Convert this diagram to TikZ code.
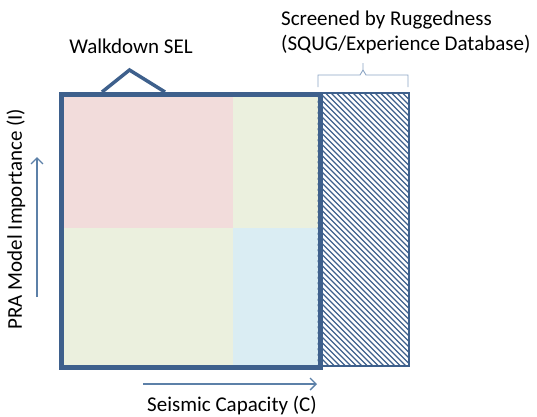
\documentclass[tikz,border=0pt]{standalone}
\usepackage{fontspec}
\setmainfont{Carlito}
\usetikzlibrary{arrows.meta}
\definecolor{boxblue}{RGB}{62,96,140}
\definecolor{arrblue}{RGB}{92,128,168}
\definecolor{braceblue}{RGB}{140,165,196}
\definecolor{pinkc}{RGB}{242,220,219}
\definecolor{greenc}{RGB}{235,240,222}
\definecolor{bluec}{RGB}{218,237,243}
\tikzset{
  lbl/.style={font=\fontsize{21}{24}\selectfont, text=black, inner sep=0pt},
  axisarrow/.style={draw=arrblue, line width=1.4pt, -{Straight Barb[length=6pt,width=12pt,line width=1.4pt]}},
}
\begin{document}
\begin{tikzpicture}[x=1pt,y=-1pt]
\useasboundingbox (0,0) rectangle (537,416);
% colour fields
\fill[pinkc]  (59,92) rectangle (233,228);
\fill[greenc] (233,92) rectangle (317.5,228);
\fill[greenc] (59,228) rectangle (233,365);
\fill[bluec]  (233,228) rectangle (317.5,365);
% hatched region
\begin{scope}
  \clip (317.5,92) rectangle (408,365);
  \foreach \i in {-290,-284.5,...,100} {
    \draw[boxblue, line width=1.3pt] (317.5+\i,92) -- ++(290,290);
  }
\end{scope}
\node[draw=boxblue, line width=2.2pt, minimum width=90.5pt, minimum height=273pt, inner sep=0pt, anchor=north west] (hatch) at (317.5,92) {};
% main box
\node[draw=boxblue, line width=5pt, minimum width=258.5pt, minimum height=273pt, inner sep=0pt, anchor=north west] (main) at (59,92) {};
% walkdown triangle
\coordinate (tl) at (102,92);
\coordinate (tapex) at (129.5,70);
\coordinate (tr) at (165,92);
\draw[boxblue, line width=3.5pt, line join=miter] (tl) -- (tapex) -- (tr);
\node[lbl] (walk) at (131,46) {Walkdown SEL};
% brace
\coordinate (bl) at (318,87);
\coordinate (br) at (408,87);
\coordinate (btip) at (363,63);
\draw[braceblue, line width=0.9pt] (bl) -- (318,75) -- (360,75) -- (363,70) -- (btip);
\draw[braceblue, line width=0.9pt] (br) -- (408,75) -- (366,75) -- (363,70);
\node[lbl, anchor=west, align=left] (scr1) at (281,20) {Screened by Ruggedness};
\node[lbl, anchor=west, align=left] (scr2) at (281,45) {(SQUG/Experience Database)};
% axes
\coordinate (xa) at (143,384);
\coordinate (xb) at (317,384);
\draw[axisarrow] (xa) -- (xb);
\node[lbl] (xlab) at (232,405) {Seismic Capacity (C)};
\coordinate (ya) at (37,297);
\coordinate (yb) at (37,157);
\draw[axisarrow] (ya) -- (yb);
\node[lbl, rotate=90] (ylab) at (16,219) {PRA Model Importance (I)};
\end{tikzpicture}
\end{document}
